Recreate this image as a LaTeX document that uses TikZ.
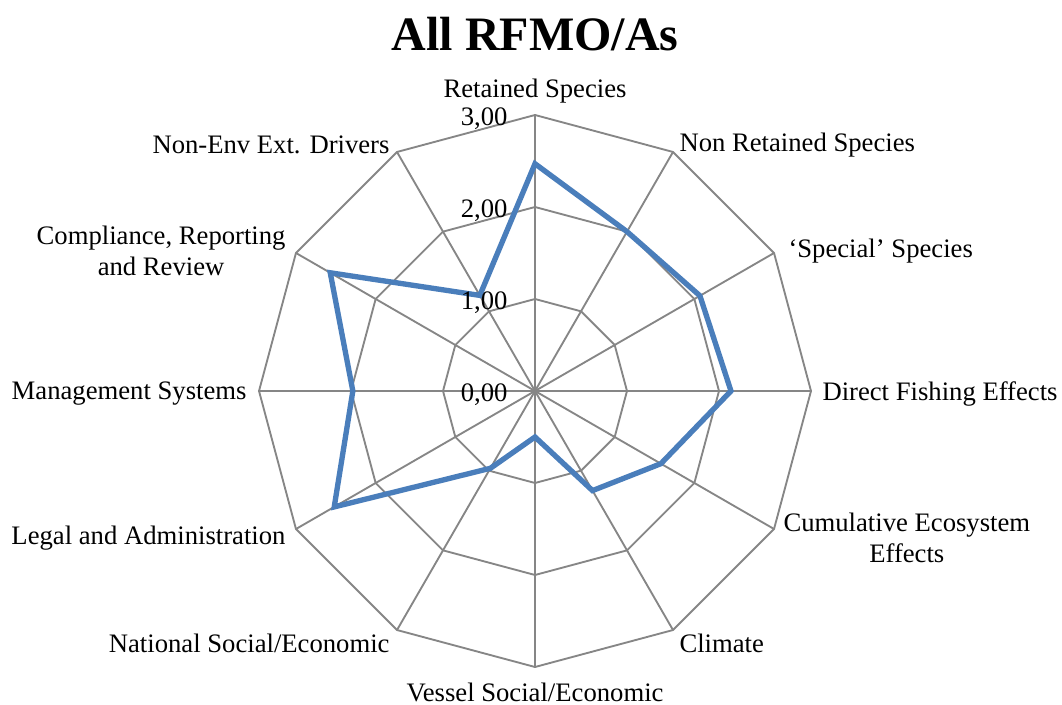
\documentclass[tikz,border=0pt]{standalone}
\usepackage{fontspec}
\setmainfont{Liberation Serif}
\usepackage{tikz}
\usepackage{xcolor}
\tikzset{every picture/.style={line width=0.75pt}}

\begin{document}
\begin{tikzpicture}[x=0.75pt,y=0.75pt,yscale=-1,xscale=1,
  grid/.style={draw={rgb, 255:red, 134; green, 134; blue, 134}, line width=1.4pt},
  series/.style={draw={rgb, 255:red, 74; green, 126; blue, 187}, line width=4pt},
  axlabel/.style={inner sep=0.75pt, font=\fontsize{20}{23}\selectfont},
  ticklabel/.style={anchor=east, inner sep=0.75pt, font=\fontsize{20}{23}\selectfont}]
\useasboundingbox (0,0) rectangle (1062,705);

%Spokes
\foreach \a in {0,30,...,330}
  \draw[grid] (535,391) -- ({535+276*cos(\a)},{391-276*sin(\a)});
%Rings
\foreach \r in {92,184,276}
  \draw[grid] ({535+\r*cos(90)},{391-\r*sin(90)})
    \foreach \a in {60,30,...,-240} { -- ({535+\r*cos(\a)},{391-\r*sin(\a)}) } -- cycle;

%Series
\draw[series] ({535+92*2.47*cos(90)},{391-92*2.47*sin(90)})
  \foreach \v [count=\i] in {2.0,2.07,2.13,1.58,1.25,0.5,0.97,2.52,1.98,2.57,1.2}
  { -- ({535+92*\v*cos(90-30*\i)},{391-92*\v*sin(90-30*\i)}) } -- cycle;

% Title
\node (title) at (535,34) [font=\fontsize{36}{40}\selectfont\bfseries] {All RFMO/As};

% Tick labels
\node (t0) at (509,395) [ticklabel] {0,00};
\node (t1) at (509,303) [ticklabel] {1,00};
\node (t2) at (509,211) [ticklabel] {2,00};
\node (t3) at (509,119) [ticklabel] {3,00};

% Axis labels
\node (retained) at (535,91) [axlabel] {Retained Species};
\node (nonretained) at (678,145) [axlabel, anchor=west] {Non Retained Species};
\node (special) at (787,251) [axlabel, anchor=west] {`Special' Species};
\node (direct) at (821,394) [axlabel, anchor=west] {Direct Fishing Effects};
\node (cumulative) at (782,538) [axlabel, anchor=west, align=center] {Cumulative Ecosystem\\Effects};
\node (climate) at (678,643) [axlabel, anchor=west] {Climate};
\node (vessel) at (535,692) [axlabel] {Vessel Social/Economic};
\node (national) at (391,643) [axlabel, anchor=east] {National Social/Economic};
\node (legal) at (287,538) [axlabel, anchor=east] {Legal and Administration};
\node (management) at (248,394) [axlabel, anchor=east] {Management Systems};
\node (compliance) at (287,251) [axlabel, anchor=east, align=center] {Compliance, Reporting\\and Review};
\node (nonenv) at (391,145) [axlabel, anchor=east] {Non-Env Ext. Drivers};

\end{tikzpicture}
\end{document}
